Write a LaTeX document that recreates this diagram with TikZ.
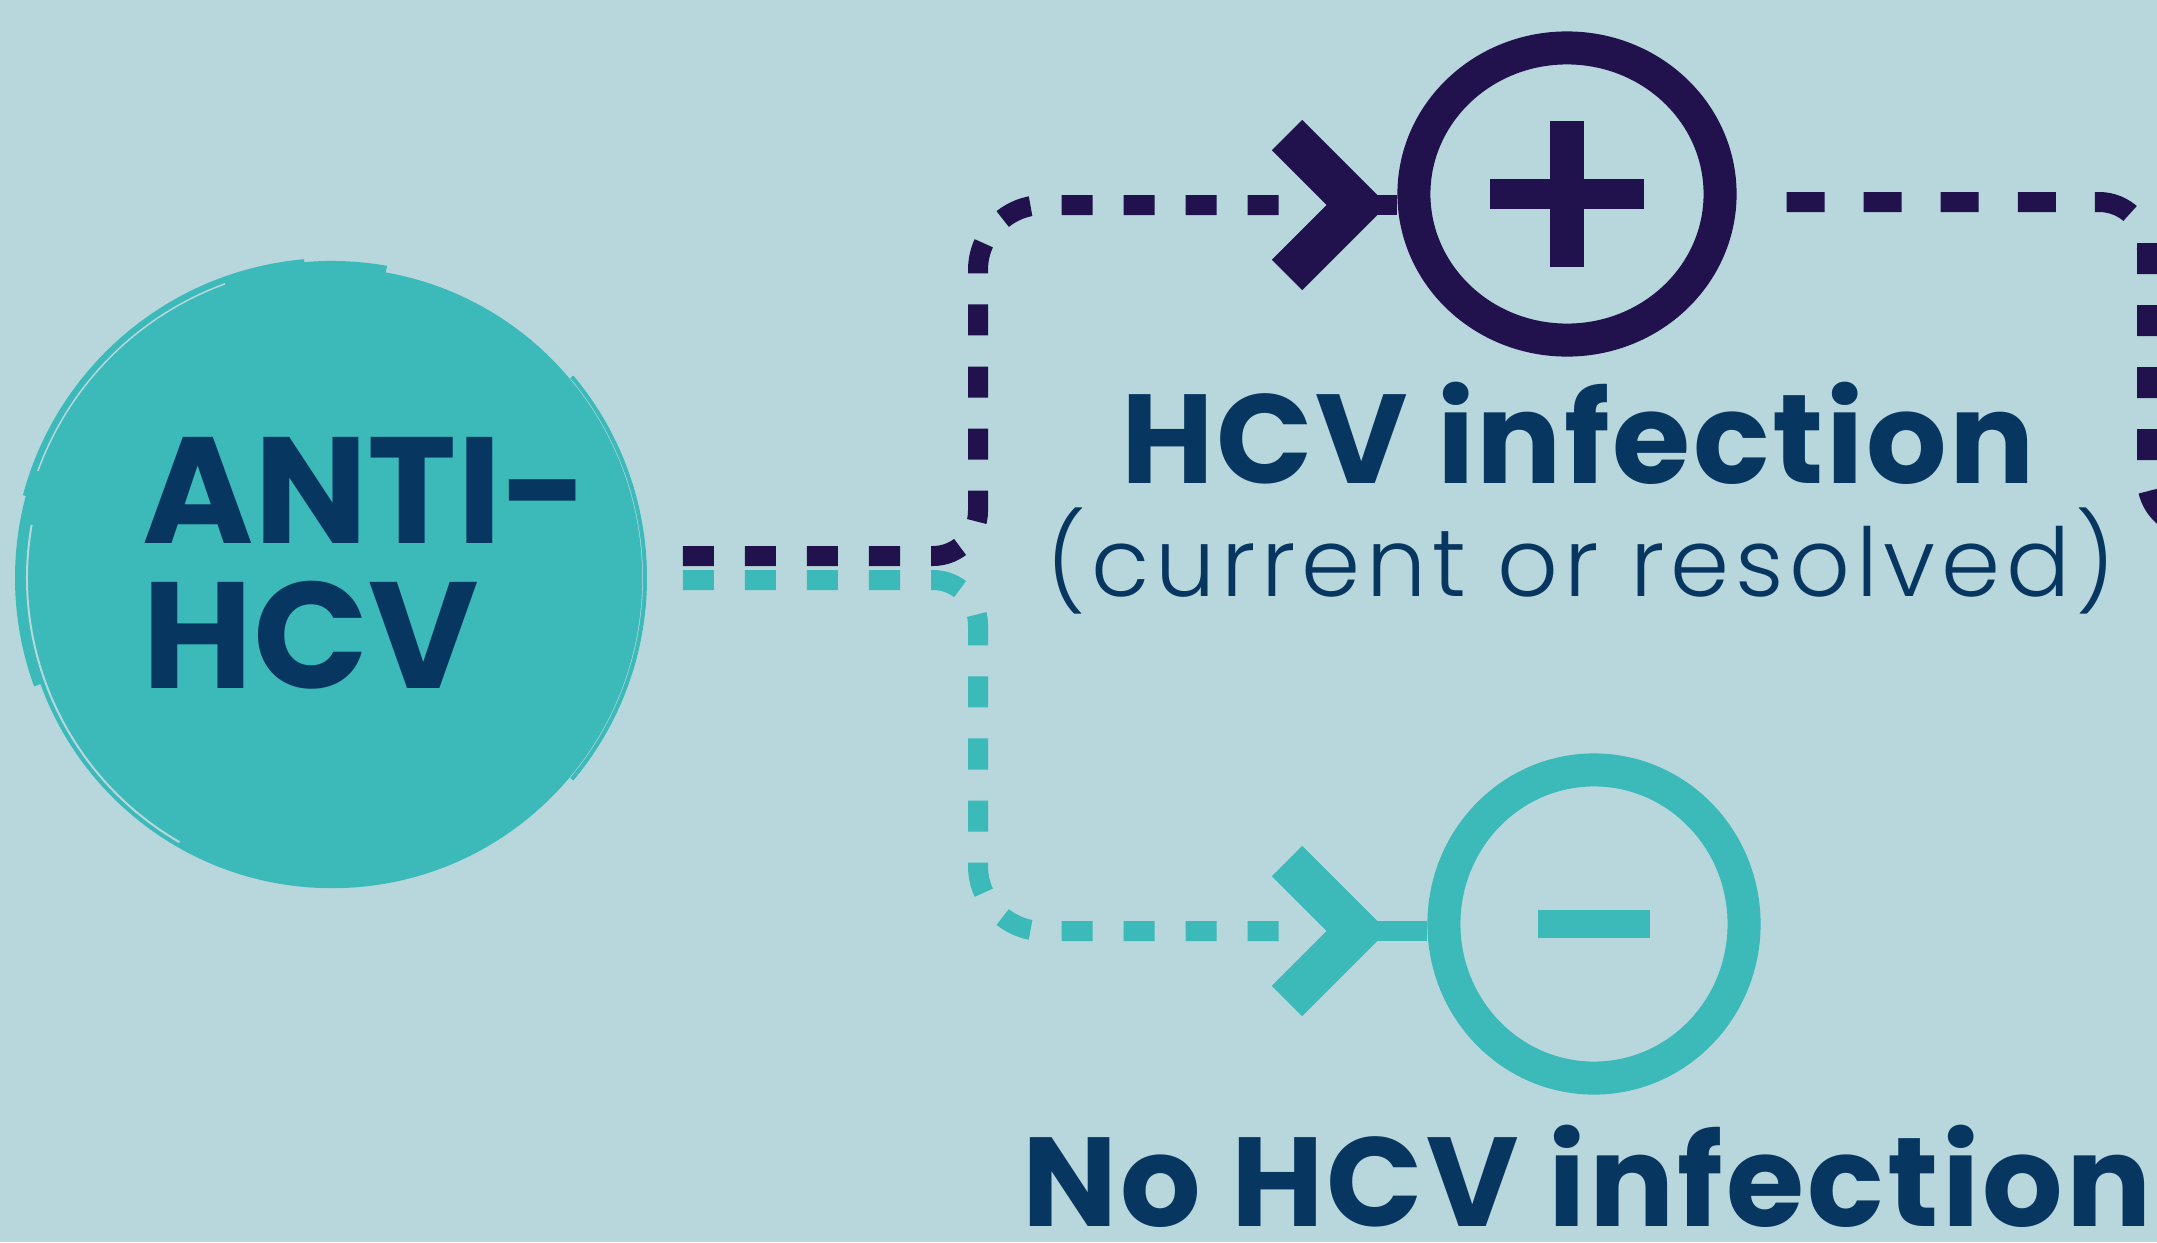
\documentclass[tikz,border=0pt]{standalone}
\usepackage{fontspec}
\setmainfont{Poppins}
\IfFontExistsTF{Poppins Light}{\newfontfamily\lightfont{Poppins Light}}{\newfontfamily\lightfont{Poppins}}
\usetikzlibrary{shapes.geometric}
\definecolor{hcvbg}{HTML}{B7D7DC}
\definecolor{hcvteal}{HTML}{3CB9B9}
\definecolor{hcvpurple}{HTML}{21124D}
\definecolor{hcvnavy}{HTML}{073660}

\begin{document}
\begin{tikzpicture}[x=0.01cm,y=-0.01cm]
    \tikzstyle{ring}=[ellipse,draw,line width=0.33cm,inner sep=0pt]
    \tikzstyle{dashline}=[line width=0.2cm,dash pattern=on 0.31cm off 0.31cm]
    \tikzstyle{chevron}=[line width=0.43cm,miter limit=4]
    \tikzstyle{hcvtext}=[text=hcvnavy,inner sep=0pt,anchor=base]
    \tikzstyle{brush}=[hcvteal]
    \fill[hcvbg] (0,0) rectangle (2157,1242);
    \useasboundingbox (0,0) rectangle (2157,1242);

    % brushed disc
    \node[circle,fill=hcvteal,minimum size=6.2cm,inner sep=0pt] (anti) at (332,578) {};
    \draw[brush,line width=0.08cm] (anti.center) ++(-80:313) arc (-80:-200:313);
    \draw[brush,line width=0.04cm] (anti.center) ++(-95:318) arc (-95:-165:318);
    \draw[brush,line width=0.04cm] (anti.center) ++(-40:313) arc (-40:40:313);
    \draw[hcvbg,line width=0.015cm] (anti.center) ++(-110:313) arc (-110:-160:313);
    \draw[hcvbg,line width=0.02cm] (anti.center) ++(-170:305) arc (-170:-240:305);
    \node[hcvtext,anchor=base west,font=\bfseries\fontsize{43}{43}\selectfont] (anti-top) at (142,543) {ANTI-};
    \node[hcvtext,anchor=base west,font=\bfseries\fontsize{43}{43}\selectfont] (anti-bottom) at (142,688) {HCV};

    % result rings
    \node[ring,draw=hcvpurple,minimum width=3.06cm,minimum height=2.92cm] (ring-pos) at (1567,194) {};
    \node[ring,draw=hcvteal,minimum width=3.00cm,minimum height=3.08cm] (ring-neg) at (1594,924) {};
    \fill[hcvpurple] ([shift={(-77,-15)}]ring-pos.center) rectangle ([shift={(77,15)}]ring-pos.center);
    \fill[hcvpurple] ([shift={(-17,-73)}]ring-pos.center) rectangle ([shift={(17,73)}]ring-pos.center);
    \fill[hcvteal] ([shift={(-56,-14)}]ring-neg.center) rectangle ([shift={(56,14)}]ring-neg.center);

    \node[hcvtext,font=\bfseries\fontsize{36}{36}\selectfont\addfontfeature{LetterSpace=2}] (pos-title) at (1578,483) {HCV infection};
    \node[hcvtext,font=\lightfont\fontsize{27}{27}\selectfont\addfontfeature{LetterSpace=6}] (pos-note) at (1581,596) {(current or resolved)};
    \node[hcvtext,font=\bfseries\fontsize{36}{36}\selectfont\addfontfeature{LetterSpace=2.5}] (neg-title) at (1587,1226) {No HCV infection};

    % connectors
    \coordinate (trunk) at (978,0);
    \coordinate (tip-pos) at (1357,205);
    \coordinate (tip-neg) at (1357,931);
    \coordinate (start-pos) at ([shift={(40,-22)}]anti.east);
    \coordinate (start-neg) at ([shift={(40,2)}]anti.east);
    \foreach \ring/\col in {pos/hcvpurple, neg/hcvteal}{
        \draw[dashline,\col] (start-\ring) [rounded corners=0.45cm] -- (start-\ring -| trunk)
            [rounded corners=0.65cm] -- (trunk |- tip-\ring) -- ([xshift=-0.57cm]tip-\ring);
        \draw[chevron,\col] ([shift={(-70,-70)}]tip-\ring) -- (tip-\ring) -- ([shift={(-70,70)}]tip-\ring);
        \draw[\col,line width=0.2cm] ([xshift=-0.3cm]tip-\ring) -- (ring-\ring.west |- tip-\ring);
    }

    \coordinate (start-right) at ([shift={(50,8)}]ring-pos.east);
    \coordinate (bend) at (2147,243);
    \coordinate (off) at (2300,528);
    \draw[dashline,hcvpurple,dash pattern=on 0.38cm off 0.39cm] (start-right)
        [rounded corners=0.48cm] -- (bend |- start-right) -- (bend);
    \draw[dashline,hcvpurple] (bend) [rounded corners=0.48cm] -- (bend |- off) -- (off);
\end{tikzpicture}
\end{document}
